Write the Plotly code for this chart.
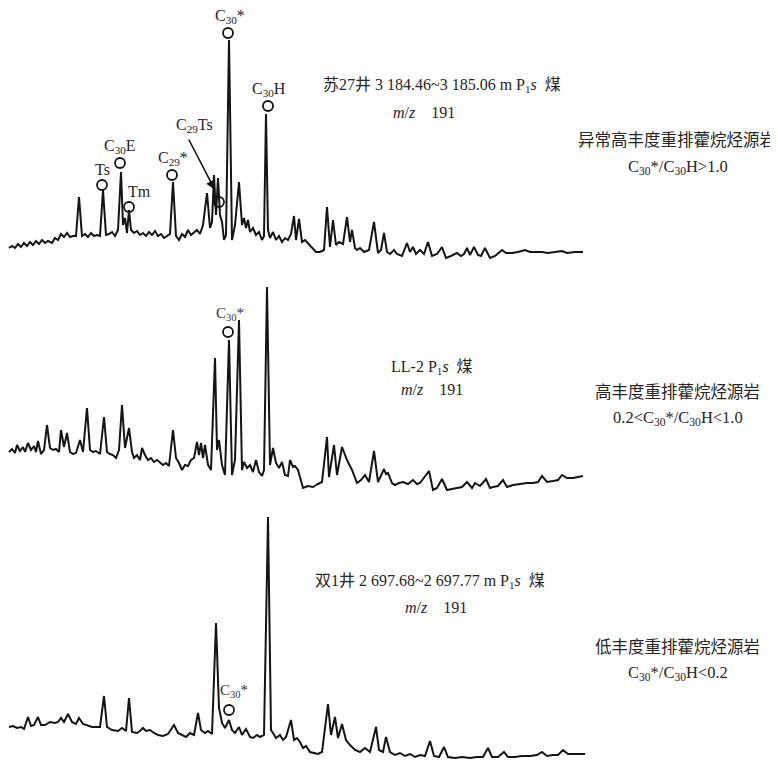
import plotly.graph_objects as go

# ---------------- data: m/z 191 mass chromatograms (retention position, relative abundance) ----------------
top_rt = [9, 12, 15, 18, 21, 24, 27, 30, 33, 36, 39, 42, 45, 48, 52, 55, 58, 61, 64, 67, 70, 73, 76, 79, 82, 85, 88, 91, 94, 97,
          100, 103, 106, 109, 112, 115, 118, 121, 123, 125, 127, 129, 131, 134, 137, 140, 143, 146, 149, 152, 155, 158, 161,
          164, 167, 170, 173, 176, 179, 182, 185, 188, 191, 194, 197, 200, 203, 207, 210, 212, 214, 216, 218, 220, 222, 224,
          226, 229, 232, 235, 239, 242, 244, 246, 248, 250, 253, 256, 259, 262, 264, 266, 268, 270, 273, 276, 279, 282, 285,
          288, 291, 294, 296, 299, 302, 305, 308, 312, 316, 320, 324, 327, 330, 333, 336, 339, 343, 347, 350, 352, 355, 357,
          360, 364, 369, 374, 378, 381, 384, 387, 390, 394, 397, 402, 407, 410, 413, 416, 420, 424, 428, 432, 437, 442, 446,
          451, 457, 461, 464, 467, 470, 474, 478, 481, 485, 490, 495, 502, 506, 512, 518, 525, 530, 536, 542, 548, 555, 562,
          567, 575, 583]
top_ab = [14, 16, 14, 18, 15, 19, 16, 20, 17, 21, 18, 22, 19, 21, 19, 24, 22, 28, 25, 29, 25, 26, 26, 65, 26, 28, 25, 29, 26, 27,
          26, 72, 27, 28, 30, 26, 32, 90, 37, 44, 29, 52, 32, 29, 31, 27, 29, 26, 30, 27, 31, 26, 28,
          24, 26, 28, 80, 26, 22, 28, 25, 32, 27, 30, 32, 28, 37, 69, 34, 40, 87, 47, 84, 47, 40, 22,
          27, 222, 22, 37, 80, 37, 44, 34, 42, 30, 34, 27, 30, 22, 26, 148, 32, 24, 30, 22, 26, 20, 24,
          22, 28, 46, 22, 43, 20, 22, 19, 14, 10, 10, 12, 55, 15, 42, 17, 20, 18, 45, 20, 32, 14, 12,
          14, 10, 12, 40, 9, 12, 29, 10, 8, 12, 8, 6, 19, 10, 15, 8, 12, 8, 20, 6, 8, 15, 4,
          6, 9, 6, 8, 14, 7, 15, 7, 6, 14, 4, 6, 12, 9, 9, 10, 12, 10, 10, 10, 9, 10, 11,
          9, 10, 10]

mid_rt = [9, 12, 15, 17, 20, 23, 25, 28, 31, 34, 36, 38, 41, 44, 47, 50, 53, 56, 59, 61, 64, 67, 70, 73, 76, 78, 80, 83, 87, 90,
          93, 96, 100, 104, 107, 110, 113, 116, 119, 122, 125, 129, 132, 134, 137, 140, 142, 145, 148, 151, 154, 157, 160, 163,
          166, 169, 173, 176, 179, 182, 185, 188, 191, 194, 197, 199, 201, 203, 205, 208, 211, 215, 217, 219, 222, 225, 229,
          232, 235, 239, 242, 244, 247, 250, 253, 256, 259, 262, 264, 267, 270, 273, 276, 279, 282, 285, 288, 290, 293, 295,
          298, 303, 308, 313, 318, 322, 327, 329, 334, 337, 342, 347, 352, 357, 361, 365, 369, 374, 378, 384, 386, 388, 392,
          395, 399, 403, 408, 413, 417, 420, 423, 429, 433, 437, 442, 447, 452, 457, 462, 467, 472, 475, 480, 486, 490, 493,
          498, 503, 507, 513, 520, 527, 533, 538, 542, 547, 553, 558, 562, 567, 573, 578, 583]
mid_ab = [40, 43, 39, 47, 41, 45, 40, 49, 42, 46, 40, 51, 38, 42, 67, 44, 42, 43, 40, 62, 45, 59, 40, 38, 39, 47, 52, 40, 84, 42,
          40, 41, 38, 75, 40, 38, 37, 34, 42, 87, 44, 64, 40, 34, 37, 32, 44, 37, 32, 34, 30, 32, 29, 27,
          29, 26, 62, 34, 29, 22, 27, 26, 32, 34, 50, 37, 49, 34, 47, 27, 22, 134, 42, 52, 27, 17, 152,
          17, 32, 172, 22, 30, 24, 27, 20, 32, 20, 16, 22, 205, 27, 44, 29, 24, 30, 17, 16, 32, 25, 26,
          22, 4, 6, 5, 8, 10, 55, 15, 47, 17, 45, 32, 22, 9, 12, 17, 10, 41, 10, 23, 18, 19, 9,
          7, 9, 10, 8, 12, 8, 9, 13, 21, 2, 4, 13, 2, 3, 4, 5, 10, 4, 9, 6, 13, 4, 5,
          6, 12, 5, 7, 8, 9, 9, 10, 16, 10, 11, 12, 17, 14, 14, 15, 16]

bot_rt = [9, 13, 17, 21, 24, 28, 31, 34, 38, 41, 45, 50, 55, 58, 61, 64, 68, 72, 76, 79, 83, 88, 92, 96, 100, 104, 107, 112, 118,
          122, 126, 129, 132, 137, 140, 143, 146, 150, 154, 158, 163, 168, 174, 178, 182, 186, 190, 194, 198, 201, 205, 208,
          212, 216, 219, 222, 225, 229, 232, 235, 239, 242, 246, 250, 253, 257, 260, 264, 268, 271, 273, 276, 280, 283, 286,
          291, 294, 297, 300, 303, 306, 310, 314, 318, 322, 328, 331, 335, 338, 342, 346, 350, 355, 360, 365, 370, 376, 379,
          383, 386, 390, 395, 400, 405, 410, 415, 420, 425, 430, 434, 439, 444, 448, 455, 462, 470, 477, 483, 488, 492, 498,
          504, 508, 515, 522, 530, 537, 542, 547, 553, 558, 563, 568, 575, 585]
bot_ab = [33, 34, 32, 33, 31, 43, 34, 35, 43, 35, 35, 38, 37, 38, 42, 38, 46, 38, 36, 42, 36, 34, 33, 33, 33, 64, 33, 30, 29,
          32, 29, 62, 28, 27, 29, 32, 29, 30, 27, 25, 24, 26, 35, 27, 25, 23, 27, 25, 47, 30, 27, 29,
          26, 137, 52, 37, 32, 40, 30, 27, 33, 25, 31, 23, 22, 25, 23, 25, 243, 30, 27, 22, 25, 20, 23,
          40, 20, 22, 18, 12, 14, 8, 7, 6, 8, 56, 25, 43, 22, 36, 20, 15, 10, 8, 12, 8, 33, 10,
          8, 23, 8, 5, 7, 4, 6, 3, 5, 4, 19, 4, 3, 13, 3, 2, 3, 2, 3, 3, 12, 3, 3,
          8, 3, 3, 4, 4, 5, 8, 4, 5, 5, 10, 6, 6, 6]

# identified peaks (label, retention position, abundance level of the marker circle)
top_peaks = ["Ts", "C<sub>30</sub>E", "Tm", "C<sub>29</sub>*", "C<sub>30</sub>*", "C<sub>30</sub>H"]
top_peak_rt = [102, 120, 129, 172, 228, 268]
top_peak_lv = [77, 99, 55, 87, 229, 156]
c29ts_rt, c29ts_lv = 219, 60
mid_c30_rt, mid_c30_lv = 228, 160
bot_c30_rt, bot_c30_lv = 229, 50

samples = ["苏27井 3 184.46~3 185.06 m P<sub>1</sub><i>s</i>  煤",
           "LL-2 P<sub>1</sub><i>s</i>  煤",
           "双1井 2 697.68~2 697.77 m P<sub>1</sub><i>s</i>  煤"]
classes = ["异常高丰度重排藿烷烃源岩", "高丰度重排藿烷烃源岩", "低丰度重排藿烷烃源岩"]
ratios = ["C<sub>30</sub>*/C<sub>30</sub>H&gt;1.0",
          "0.2&lt;C<sub>30</sub>*/C<sub>30</sub>H&lt;1.0",
          "C<sub>30</sub>*/C<sub>30</sub>H&lt;0.2"]
mz = "<i>m</i>/<i>z</i>    191"

# ---------------- figure ----------------
SERIF = "Liberation Serif, Noto Sans CJK SC, serif"
INK = "#141414"
TXT = "#262626"
LINE = dict(color=INK, width=2.0)
fig = go.Figure()
for rt, ab, ya in [(top_rt, top_ab, "y"), (mid_rt, mid_ab, "y2"), (bot_rt, bot_ab, "y3")]:
    fig.add_trace(go.Scatter(x=rt, y=ab, mode="lines", line=LINE, xaxis="x", yaxis=ya,
                             hoverinfo="skip", showlegend=False))

circle = dict(symbol="circle-open", size=10, color=INK, line=dict(width=1.8, color=INK))
fig.add_trace(go.Scatter(x=top_peak_rt + [c29ts_rt], y=top_peak_lv + [c29ts_lv], mode="markers",
                         marker=circle, xaxis="x", yaxis="y", showlegend=False, hoverinfo="skip"))
fig.add_trace(go.Scatter(x=[mid_c30_rt], y=[mid_c30_lv], mode="markers", marker=circle,
                         xaxis="x", yaxis="y2", showlegend=False, hoverinfo="skip"))
fig.add_trace(go.Scatter(x=[bot_c30_rt], y=[bot_c30_lv], mode="markers", marker=circle,
                         xaxis="x", yaxis="y3", showlegend=False, hoverinfo="skip"))

ann = []
lab_font = dict(family=SERIF, size=16, color=TXT)
label_dx = [0, 0, 10, 1, 2, 1]
for name, rt, lv, dx in zip(top_peaks, top_peak_rt, top_peak_lv, label_dx):
    ann.append(dict(x=rt + dx, y=lv, xref="x", yref="y", text=name, showarrow=False,
                    yanchor="bottom", yshift=5, font=lab_font))
# C29Ts label with arrow
ann.append(dict(x=c29ts_rt - 4, y=c29ts_lv + 12, xref="x", yref="y", ax=188, ay=124, axref="x", ayref="y",
                showarrow=True, arrowhead=2, arrowsize=1.2, arrowwidth=1.6, arrowcolor=INK, text=""))
ann.append(dict(x=194, y=124, xref="x", yref="y", text="C<sub>29</sub>Ts", showarrow=False,
                yanchor="bottom", yshift=1, font=lab_font))
ann.append(dict(x=mid_c30_rt + 2, y=mid_c30_lv, xref="x", yref="y2", text="C<sub>30</sub>*", showarrow=False,
                yanchor="bottom", yshift=7, font=dict(family=SERIF, size=15, color="#333")))
ann.append(dict(x=bot_c30_rt + 5, y=bot_c30_lv, xref="x", yref="y3", text="C<sub>30</sub>*", showarrow=False,
                yanchor="bottom", yshift=8, font=dict(family=SERIF, size=15, color="#333")))

txt_font = dict(family=SERIF, size=16, color=TXT)
cls_font = dict(family=SERIF, size=16.5, color=TXT)
rat_font = dict(family=SERIF, size=16.5, color=TXT)
info = [  # (yaxis, sample x, sample y, mz x, mz y, class y, ratio y)
    ("y", 442, 177, 424, 150, 122, 95),
    ("y2", 432, 124, 432, 102, 99, 74),
    ("y3", 430, 179, 436, 153, 113, 87),
]
for (ya, sx, sy, mx, my, cy, ry), s, c, r in zip(info, samples, classes, ratios):
    ann.append(dict(x=sx, y=sy, xref="x", yref=ya, text=s, showarrow=False, font=txt_font))
    ann.append(dict(x=mx, y=my, xref="x", yref=ya, text=mz, showarrow=False, font=txt_font))
    ann.append(dict(x=677, y=cy, xref="x", yref=ya, text=c, showarrow=False, font=cls_font))
    ann.append(dict(x=678, y=ry, xref="x", yref=ya, text=r, showarrow=False, font=rat_font))

# the page places the figure 8 px from the window's top-left corner
W, H = 770, 752
hidden = dict(visible=False, showgrid=False, zeroline=False, fixedrange=True)
fig.update_layout(
    width=W, height=H, margin=dict(l=0, r=0, t=0, b=0),
    paper_bgcolor="white", plot_bgcolor="white",
    xaxis=dict(range=[8, 778], domain=[0, 1], anchor="y", **hidden),
    yaxis=dict(range=[0, 254], domain=[1 - 254 / H, 1], **hidden),
    yaxis2=dict(range=[0, 222], domain=[1 - 484 / H, 1 - 262 / H], **hidden),
    yaxis3=dict(range=[0, 260], domain=[0, 1 - 492 / H], **hidden),
    annotations=ann,
    showlegend=False,
)
fig.write_html("out.html")
